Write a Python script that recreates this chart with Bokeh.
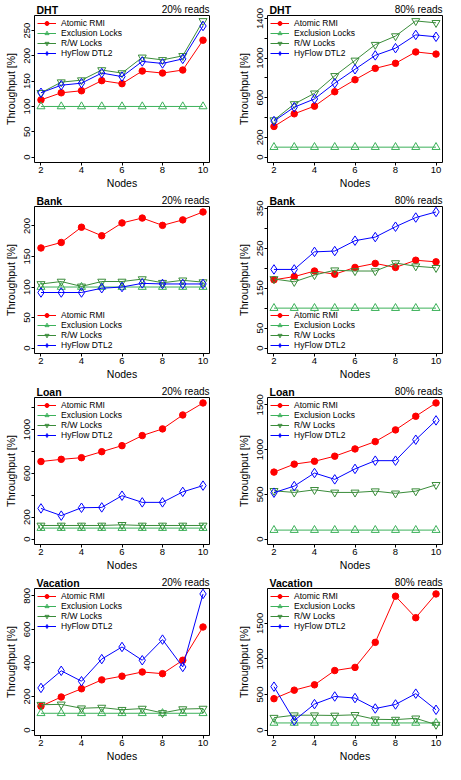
import numpy as np
from bokeh.plotting import figure
from bokeh.layouts import column, row
from bokeh.models import FixedTicker, Legend, LegendItem, Title
from bokeh.embed import file_html
from bokeh.resources import INLINE

# ---------------- data ----------------
nodes = [2, 3, 4, 5, 6, 7, 8, 9, 10]
series_names = ["Atomic RMI", "Exclusion Locks", "R/W Locks", "HyFlow DTL2"]
x_ticks = [2, 4, 6, 8, 10]

dht20_rmi = [113, 127, 131, 151, 145, 170, 166, 172, 231]
dht20_excl = [100, 100, 100, 100, 100, 100, 100, 100, 100]
dht20_rw = [127, 148, 152, 172, 166, 197, 192, 200, 269]
dht20_hyflow = [127, 142, 146, 166, 159, 189, 185, 194, 259]

dht80_rmi = [309, 437, 514, 660, 781, 896, 947, 1062, 1040]
dht80_excl = [100, 100, 100, 100, 100, 100, 100, 100, 100]
dht80_rw = [373, 536, 644, 820, 976, 1135, 1222, 1375, 1356]
dht80_hyflow = [364, 504, 587, 746, 887, 1027, 1100, 1234, 1215]

bank20_rmi = [164, 173, 198, 184, 205, 213, 201, 210, 223]
bank20_excl = [100, 100, 100, 100, 100, 100, 100, 100, 100]
bank20_rw = [105, 109, 101, 109, 109, 113, 107, 111, 108]
bank20_hyflow = [91, 91, 91, 98, 100, 106, 105, 105, 105]

bank80_rmi = [171, 179, 193, 185, 202, 212, 202, 220, 216]
bank80_excl = [100, 100, 100, 100, 100, 100, 100, 100, 100]
bank80_rw = [173, 166, 183, 195, 193, 193, 213, 205, 201]
bank80_hyflow = [197, 197, 241, 243, 269, 278, 304, 327, 341]

loan20_rmi = [708, 728, 743, 798, 853, 945, 1006, 1133, 1243]
loan20_excl = [100, 100, 100, 100, 100, 100, 100, 100, 100]
loan20_rw = [124, 124, 124, 124, 130, 124, 124, 124, 124]
loan20_hyflow = [280, 214, 286, 289, 396, 335, 335, 431, 488]

loan80_rmi = [748, 837, 869, 926, 1007, 1089, 1220, 1372, 1521]
loan80_excl = [100, 100, 100, 100, 100, 100, 100, 100, 100]
loan80_rw = [539, 521, 550, 521, 521, 535, 511, 535, 606]
loan80_hyflow = [518, 592, 738, 667, 784, 876, 876, 1110, 1326]

vac20_rmi = [142, 197, 246, 299, 321, 346, 336, 416, 614]
vac20_excl = [100, 100, 100, 100, 100, 100, 100, 100, 100]
vac20_rw = [151, 153, 130, 134, 121, 128, 102, 125, 128]
vac20_hyflow = [251, 353, 291, 423, 495, 416, 539, 376, 811]

vac80_rmi = [441, 561, 636, 837, 881, 1233, 1882, 1580, 1914]
vac80_excl = [100, 100, 100, 100, 100, 100, 100, 100, 100]
vac80_rw = [174, 209, 209, 205, 214, 151, 147, 165, 76]
vac80_hyflow = [610, 134, 365, 472, 450, 303, 360, 512, 285]

# y tick labels shown / ticks without label
dht20_yticks, dht20_yminor = [0, 50, 100, 150, 200, 250], []
dht80_yticks, dht80_yminor = [0, 200, 600, 1000, 1400], [400, 800, 1200]
bank20_yticks, bank20_yminor = [0, 50, 100, 150, 200], []
bank80_yticks, bank80_yminor = [0, 50, 150, 250, 350], [100, 200, 300]
loan20_yticks, loan20_yminor = [0, 200, 600, 1000], [400, 800, 1200]
loan80_yticks, loan80_yminor = [0, 500, 1000, 1500], []
vac20_yticks, vac20_yminor = [0, 200, 400, 600, 800], []
vac80_yticks, vac80_yminor = [0, 500, 1000, 1500], []

# ---------------- styles ----------------
FONT = "Liberation Sans"
colors = ["#ff0000", "#3cb15a", "#3a8c3a", "#0000ff"]
markers = ["circle", "triangle", "inverted_triangle", "diamond"]
msizes = [6.5, 8, 8, 9.5]
mfill = [True, False, False, False]

PW, PH = 222, 191


def make_panel(bench, reads, ys, yticks, yminor, legend_loc, col):
    ymax = max(max(v) for v in ys)
    x0, x1 = 1.68, 10.32
    y0, y1 = -0.04 * ymax, 1.04 * ymax
    left = 34 if col == 0 else 45
    right = 13 if col == 0 else 2
    p = figure(width=PW, height=PH, x_range=(x0, x1), y_range=(y0, y1),
               output_backend="svg", toolbar_location=None,
               min_border_left=left, min_border_right=right,
               min_border_top=11, min_border_bottom=29)
    p.grid.visible = False
    p.outline_line_color = "black"
    p.outline_line_alpha = 1
    p.outline_line_width = 1
    p.background_fill_color = "white"
    p.border_fill_color = "white"

    # inner title row: "xx% reads" (right aligned)
    p.add_layout(Title(text=reads, align="right", text_font=FONT,
                       text_font_size="10px", text_font_style="normal",
                       text_color="black", standoff=2, offset=0), "above")
    # outer title (benchmark name) pulled down into the same row
    p.title.text = bench
    p.title.align = "left"
    p.title.text_font = FONT
    p.title.text_font_size = "10.5px"
    p.title.text_font_style = "bold"
    p.title.text_color = "black"
    p.title.standoff = -30
    p.title.offset = 2

    for ax in (p.xaxis[0], p.yaxis[0]):
        ax.axis_line_color = None
        ax.major_tick_out = 3
        ax.major_tick_in = 0
        ax.minor_tick_out = 3
        ax.minor_tick_in = 0
        ax.major_tick_line_color = "black"
        ax.minor_tick_line_color = "black"
        ax.major_label_text_font = FONT
        ax.major_label_text_font_size = "9.5px"
        ax.major_label_text_color = "black"
        ax.major_label_standoff = 1
        ax.axis_label_text_font = FONT
        ax.axis_label_text_font_size = "10.5px"
        ax.axis_label_text_font_style = "normal"
        ax.axis_label_text_color = "black"

    p.xaxis.ticker = FixedTicker(ticks=x_ticks, minor_ticks=[])
    p.xaxis.axis_label = "Nodes"
    p.xaxis.axis_label_standoff = 1
    p.yaxis.ticker = FixedTicker(ticks=yticks, minor_ticks=yminor)
    p.yaxis.major_label_orientation = "vertical"
    p.yaxis.axis_label = "Throughput [%]"
    p.yaxis.axis_label_standoff = 5

    items = []
    for i, name in enumerate(series_names):
        lr = p.line(nodes, ys[i], line_color=colors[i], line_width=1)
        sr = p.scatter(nodes, ys[i], marker=markers[i], size=msizes[i],
                       line_color=colors[i], line_width=1,
                       fill_color=colors[i] if mfill[i] else "white",
                       fill_alpha=1 if mfill[i] else 0)
        items.append(LegendItem(label=name, renderers=[lr, sr]))

    leg = Legend(items=items, location=legend_loc)
    leg.label_text_font = FONT
    leg.label_text_font_size = "8.5px"
    leg.label_text_color = "black"
    leg.glyph_width = 19
    leg.glyph_height = 10
    leg.label_height = 10
    leg.label_standoff = 5
    leg.spacing = 0
    leg.padding = 2
    leg.margin = 1
    leg.background_fill_alpha = 0
    leg.border_line_alpha = 0
    p.add_layout(leg)
    return p


panels = [
    make_panel("DHT", "20% reads", [dht20_rmi, dht20_excl, dht20_rw, dht20_hyflow],
               dht20_yticks, dht20_yminor, "top_left", 0),
    make_panel("DHT", "80% reads", [dht80_rmi, dht80_excl, dht80_rw, dht80_hyflow],
               dht80_yticks, dht80_yminor, "top_left", 1),
    make_panel("Bank", "20% reads", [bank20_rmi, bank20_excl, bank20_rw, bank20_hyflow],
               bank20_yticks, bank20_yminor, "bottom_left", 0),
    make_panel("Bank", "80% reads", [bank80_rmi, bank80_excl, bank80_rw, bank80_hyflow],
               bank80_yticks, bank80_yminor, "bottom_left", 1),
    make_panel("Loan", "20% reads", [loan20_rmi, loan20_excl, loan20_rw, loan20_hyflow],
               loan20_yticks, loan20_yminor, "top_left", 0),
    make_panel("Loan", "80% reads", [loan80_rmi, loan80_excl, loan80_rw, loan80_hyflow],
               loan80_yticks, loan80_yminor, "top_left", 1),
    make_panel("Vacation", "20% reads", [vac20_rmi, vac20_excl, vac20_rw, vac20_hyflow],
               vac20_yticks, vac20_yminor, "top_left", 0),
    make_panel("Vacation", "80% reads", [vac80_rmi, vac80_excl, vac80_rw, vac80_hyflow],
               vac80_yticks, vac80_yminor, "top_left", 1),
]

layout = column(row(panels[0], panels[1]), row(panels[2], panels[3]),
                row(panels[4], panels[5]), row(panels[6], panels[7]))

open("out.html", "w").write(file_html(layout, INLINE))
